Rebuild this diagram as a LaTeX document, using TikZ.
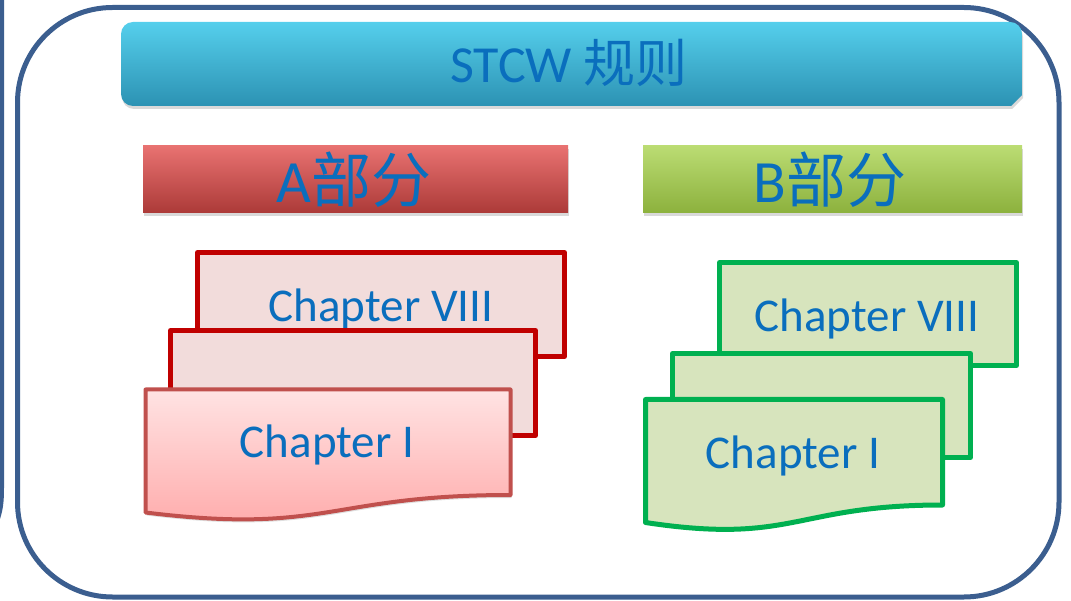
\documentclass[tikz,border=0pt]{standalone}
\usepackage{fontspec}
\setmainfont{Carlito}
\newfontfamily\cjk{Noto Sans CJK SC}
\usetikzlibrary{shadows}

\definecolor{frameblue}{HTML}{3B5E8F}
\definecolor{txtblue}{HTML}{0A6EBD}
\definecolor{cyantop}{HTML}{55CFEC}
\definecolor{cyanbot}{HTML}{2C92B3}
\definecolor{redtop}{HTML}{E87271}
\definecolor{redbot}{HTML}{AC3A38}
\definecolor{greentop}{HTML}{BBDC73}
\definecolor{greenbot}{HTML}{8CB13D}
\definecolor{redline}{HTML}{C00000}
\definecolor{redfill}{HTML}{F2DCDB}
\definecolor{frontline}{HTML}{C0504D}
\definecolor{pinktop}{HTML}{FFE3E3}
\definecolor{pinkbot}{HTML}{FFA8A8}
\definecolor{greenline}{HTML}{00B050}
\definecolor{greenfill}{HTML}{D7E4BD}

\tikzset{
  bar/.style={drop shadow={opacity=0.3,shadow xshift=1pt,shadow yshift=-3pt}},
  bartext/.style={anchor=base, text=txtblue, font=\fontsize{60}{60}\selectfont},
  chaptext/.style={anchor=base, text=txtblue, font=\fontsize{47}{47}\selectfont},
  redpage/.style={draw=redline, fill=redfill, line width=5pt, line join=round},
  greenpage/.style={draw=greenline, fill=greenfill, line width=5pt, line join=round},
}

\begin{document}
\begin{tikzpicture}[x=1pt,y=-1pt]
  \useasboundingbox (0,0) rectangle (1071,601);
  \clip (0,0) rectangle (1071,601);

  % frame
  \draw[frameblue, line width=5pt] (1.5,-10) -- (1.5,488) .. controls (1.5,502) and (0.5,510) .. (-3,520);
  \draw[frameblue, line width=5pt, rounded corners=95pt] (17.5,7.5) rectangle (1059,597);

  % title bar
  \path[bar, top color=cyantop, bottom color=cyanbot]
    (121,64) [rounded corners=12pt] |- (1022,22) -- (1022,64)
    [sharp corners] -- (1022,95) -- (1011,106) -- (900,106)
    [rounded corners=12pt] -- (121,106) -- cycle;
  \node[bartext, font=\fontsize{52}{52}\selectfont] (stcw) at (569,83) {STCW {\cjk 规则}};

  % part bars
  \path[bar, top color=redtop, bottom color=redbot] (143,146) rectangle (568,213);
  \node[bartext] (partA) at (354,203) {A{\cjk 部分}};
  \path[bar, top color=greentop, bottom color=greenbot] (643,146) rectangle (1022,213);
  \node[bartext] (partB) at (830,203) {B{\cjk 部分}};

  % part A chapters
  \draw[redpage] (197.5,252.5) rectangle (564.5,356.5);
  \node[chaptext] (aLast) at (381,322) {Chapter VIII};
  \draw[redpage] (170.5,330.5) rectangle (535.5,435.5);
  \draw[draw=frontline, line width=4pt, line join=round, top color=pinktop, bottom color=pinkbot,
        drop shadow={opacity=0.25,shadow xshift=1pt,shadow yshift=-3pt}]
    (145.5,389.5) -- (510.5,389.5) -- (510.5,495)
    .. controls (328,495) and (328,535) .. (145.5,512.5) -- cycle;
  \node[chaptext] (aFirst) at (327,457) {Chapter I};

  % part B chapters
  \draw[greenpage] (719.5,262.5) rectangle (1016.5,365.5);
  \node[chaptext] (bLast) at (867,332) {Chapter VIII};
  \draw[greenpage] (672.5,353.5) rectangle (970.5,457.5);
  \draw[greenpage] (645.5,399.5) -- (942.5,399.5) -- (942.5,505)
    .. controls (794,505) and (794,545) .. (645.5,522.5) -- cycle;
  \node[chaptext] (bFirst) at (793,468) {Chapter I};
\end{tikzpicture}
\end{document}
